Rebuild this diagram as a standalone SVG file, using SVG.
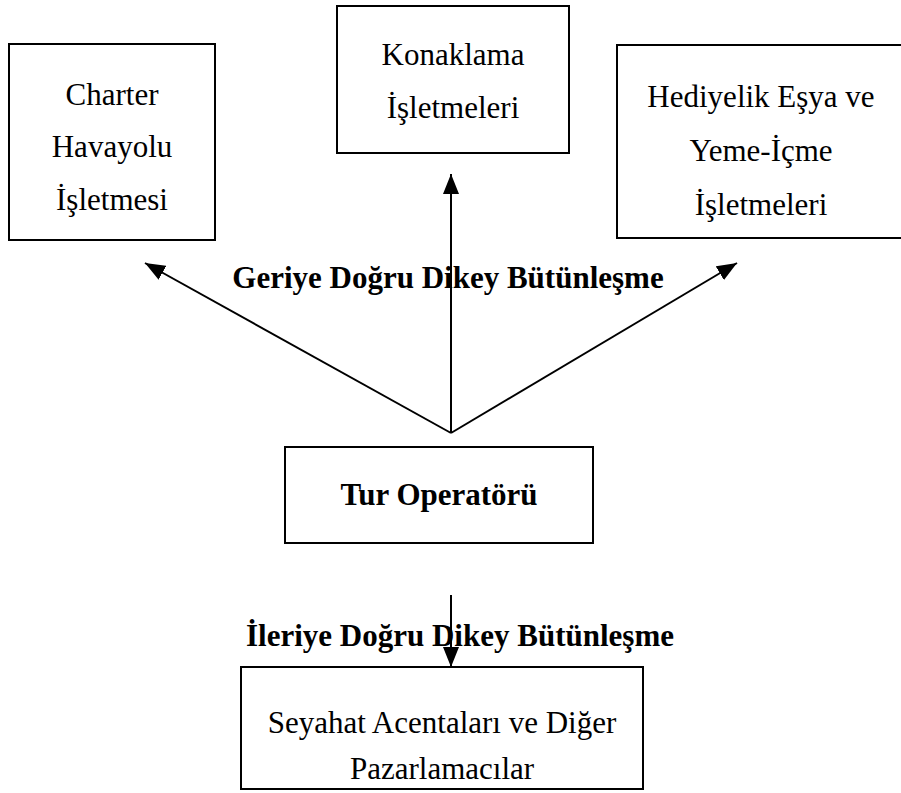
<svg xmlns="http://www.w3.org/2000/svg" width="901" height="793" viewBox="0 0 901 793">
  <style>
    .box { fill: #ffffff; stroke: #000000; stroke-width: 2; }
    .lbl { font-family: "Liberation Serif", "Times New Roman", serif; font-size: 31px; fill: #000000; text-anchor: middle; }
    .bold { font-weight: bold; }
    .edge { stroke: #000000; stroke-width: 2; fill: none; }
  </style>
  <defs>
    <marker id="head" viewBox="0 0 20 16" refX="20" refY="8" markerWidth="20" markerHeight="16" markerUnits="userSpaceOnUse" orient="auto">
      <path d="M0,0 L20,8 L0,16 z" fill="#000000"/>
    </marker>
  </defs>
  <rect width="901" height="793" fill="#ffffff"/>

  <g id="charter">
    <rect class="box" x="9" y="44" width="206" height="196"/>
    <text class="lbl" x="112" y="105">Charter</text>
    <text class="lbl" x="112" y="157">Havayolu</text>
    <text class="lbl" x="112" y="210">İşletmesi</text>
  </g>

  <g id="konaklama">
    <rect class="box" x="337" y="6" width="232" height="147"/>
    <text class="lbl" x="453" y="65">Konaklama</text>
    <text class="lbl" x="453" y="118">İşletmeleri</text>
  </g>

  <g id="hediyelik">
    <rect class="box" x="617" y="45" width="290" height="193"/>
    <text class="lbl" x="761" y="107">Hediyelik Eşya ve</text>
    <text class="lbl" x="761" y="161">Yeme-İçme</text>
    <text class="lbl" x="761" y="215">İşletmeleri</text>
  </g>

  <g id="tur-operatoru">
    <rect class="box" x="285" y="447" width="308" height="96"/>
    <text class="lbl bold" x="439" y="505">Tur Operatörü</text>
  </g>

  <g id="seyahat">
    <rect class="box" x="241" y="667" width="402" height="122"/>
    <text class="lbl" x="442" y="733">Seyahat Acentaları ve Diğer</text>
    <text class="lbl" x="442" y="779">Pazarlamacılar</text>
  </g>

  <g id="connectors">
    <line class="edge" x1="451" y1="433" x2="145" y2="263" marker-end="url(#head)"/>
    <line class="edge" x1="451" y1="433" x2="451" y2="174" marker-end="url(#head)"/>
    <line class="edge" x1="451" y1="433" x2="737" y2="263" marker-end="url(#head)"/>
    <line class="edge" x1="451" y1="595" x2="451" y2="667" marker-end="url(#head)"/>
    <text class="lbl bold" x="448" y="288">Geriye Doğru Dikey Bütünleşme</text>
    <text class="lbl bold" x="460" y="646">İleriye Doğru Dikey Bütünleşme</text>
  </g>
</svg>
